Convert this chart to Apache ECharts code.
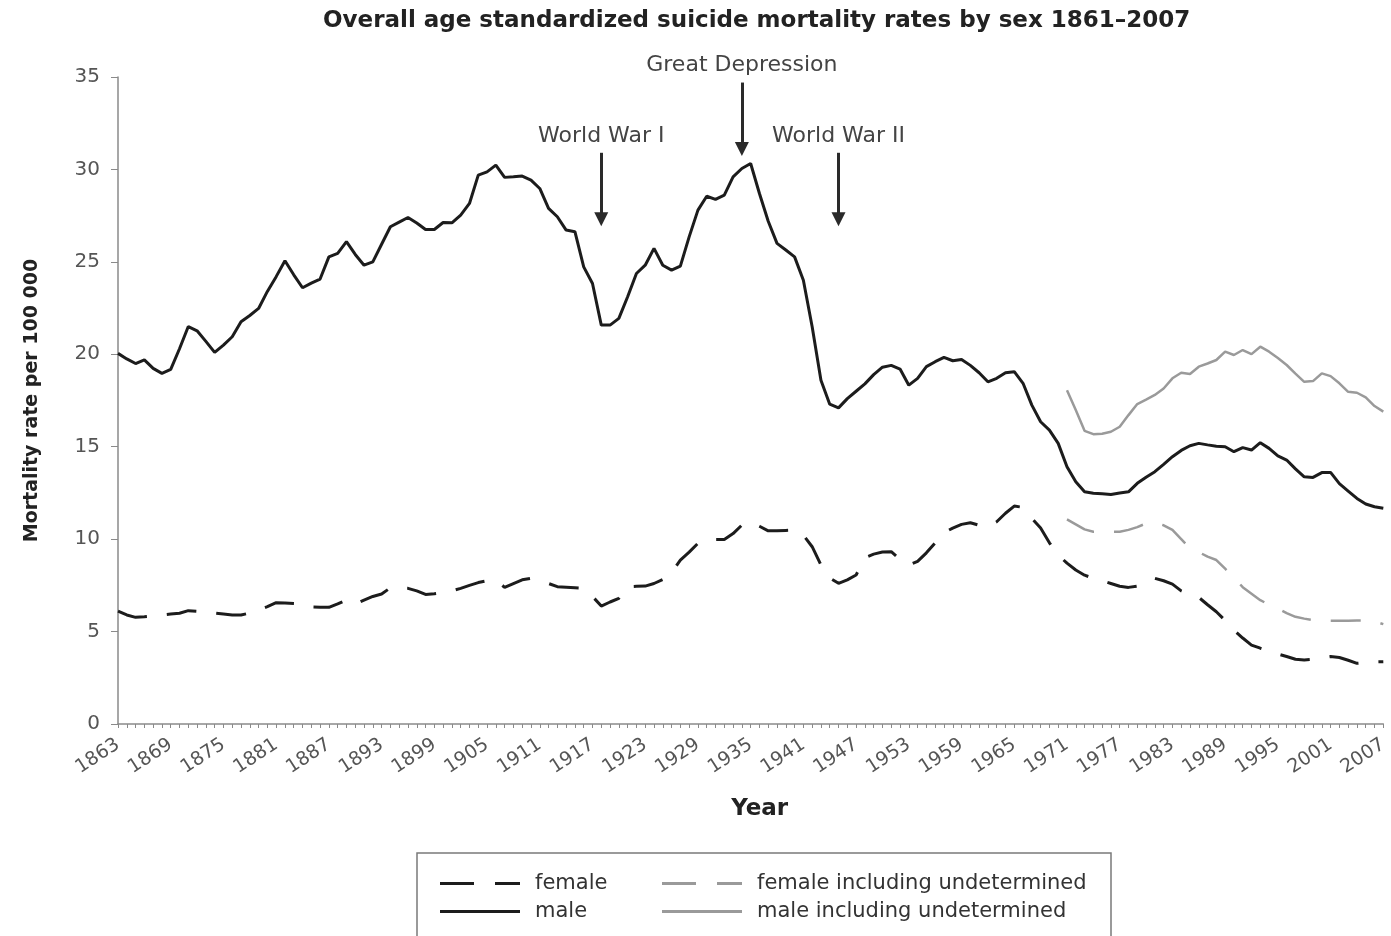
<!DOCTYPE html>
<html>
<head>
<meta charset="utf-8">
<title>Suicide mortality rates by sex 1861–2007</title>
<script src="https://cdn.jsdelivr.net/npm/echarts@6/dist/echarts.min.js"></script>
<style>
  html, body { margin: 0; padding: 0; background: #ffffff; }
  #chart { width: 1391px; height: 936px; }
</style>
</head>
<body>
<div id="chart"></div>
<script>
// Years on the category axis (one category per year)
const firstYear = 1863;
const lastYear = 2007;
const years = [];
for (let y = firstYear; y <= lastYear; y++) years.push(String(y));

// Age standardized suicide mortality per 100 000, 1863–2007
const male = [
  20.05, 19.75, 19.5, 19.7, 19.24, 18.97, 19.18, 20.3, 21.5, 21.27,
  20.7, 20.1, 20.5, 20.95, 21.76, 22.1, 22.48, 23.4, 24.2, 25.06,
  24.3, 23.6, 23.85, 24.07, 25.27, 25.46, 26.09, 25.4, 24.82, 25.0,
  25.95, 26.9, 27.15, 27.4, 27.1, 26.75, 26.75, 27.13, 27.11, 27.53,
  28.16, 29.69, 29.87, 30.23, 29.57, 29.6, 29.64, 29.42, 28.97, 27.89,
  27.44, 26.72, 26.63, 24.73, 23.83, 21.58, 21.58, 21.94, 23.11, 24.37,
  24.82, 25.73, 24.82, 24.55, 24.77, 26.35, 27.8, 28.55, 28.38, 28.61,
  29.6, 30.05, 30.32, 28.7, 27.2, 26.0, 25.64, 25.27, 24.0, 21.49,
  18.6, 17.3, 17.1, 17.6, 18.0, 18.4, 18.9, 19.3, 19.4, 19.2,
  18.33, 18.7, 19.33, 19.6, 19.83, 19.65, 19.72, 19.4, 19.0, 18.51,
  18.7, 19.0, 19.06, 18.43, 17.25, 16.35, 15.9, 15.18, 13.92, 13.1,
  12.56, 12.48, 12.45, 12.42, 12.5, 12.56, 13.02, 13.35, 13.65, 14.05,
  14.46, 14.8, 15.05, 15.18, 15.1, 15.03, 15.0, 14.73, 14.95, 14.82,
  15.22, 14.91, 14.5, 14.28, 13.8, 13.37, 13.34, 13.6, 13.61, 13.0,
  12.6, 12.2, 11.9, 11.75, 11.67
];

const female = [
  6.1, 5.9, 5.77, 5.8, 5.84, 5.9, 5.95, 5.99, 6.13, 6.1,
  6.07, 6.0, 5.95, 5.9, 5.9, 6.0, 6.17, 6.35, 6.56, 6.55,
  6.52, 6.49, 6.34, 6.32, 6.31, 6.5, 6.71, 6.49, 6.7, 6.9,
  7.03, 7.37, 7.37, 7.34, 7.2, 7.01, 7.05, 7.12, 7.2, 7.34,
  7.5, 7.65, 7.75, 7.79, 7.39, 7.6, 7.8, 7.88, 7.75, 7.6,
  7.43, 7.4, 7.37, 7.34, 6.9, 6.38, 6.6, 6.8, 7.43, 7.45,
  7.46, 7.6, 7.82, 8.2, 8.87, 9.3, 9.77, 9.98, 9.98, 9.98,
  10.3, 10.76, 10.94, 10.7, 10.45, 10.45, 10.47, 10.49, 10.22, 9.59,
  8.6, 7.9, 7.61, 7.8, 8.06, 9.0, 9.19, 9.3, 9.32, 8.9,
  8.6, 8.8, 9.26, 9.8, 10.35, 10.6, 10.8, 10.89, 10.75, 10.67,
  10.94, 11.4, 11.79, 11.72, 11.12, 10.6, 9.8, 9.14, 8.7, 8.33,
  8.05, 7.88, 7.75, 7.6, 7.45, 7.39, 7.46, 7.7, 7.88, 7.75,
  7.57, 7.2, 7.0, 6.85, 6.45, 6.07, 5.6, 5.08, 4.65, 4.27,
  4.1, 3.95, 3.79, 3.65, 3.5, 3.46, 3.5, 3.58, 3.65, 3.6,
  3.45, 3.28, 3.32, 3.36, 3.37
];

// Series including undetermined deaths, available from 1971
const undeterminedFrom = 1971;
const maleUndetermined = [
  18.06, 16.98, 15.86, 15.68, 15.7, 15.81, 16.08, 16.71, 17.31, 17.55,
  17.8, 18.15, 18.7, 19.0, 18.93, 19.33, 19.5, 19.69, 20.14, 19.96,
  20.23, 20.01, 20.41, 20.14, 19.8, 19.42, 18.95, 18.51, 18.55, 18.97,
  18.82, 18.43, 17.97, 17.92, 17.67, 17.2, 16.9
];
const femaleUndetermined = [
  11.07, 10.8, 10.53, 10.4, 10.4, 10.4, 10.4, 10.5, 10.65, 10.85,
  10.9, 10.75, 10.5, 10.0, 9.5, 9.3, 9.05, 8.87, 8.4, 7.93,
  7.4, 7.05, 6.7, 6.45, 6.25, 6.0, 5.8, 5.7, 5.62, 5.59,
  5.58, 5.58, 5.59, 5.6, 5.6, 5.55, 5.4
];

// Y axis ticks
const yMin = 0, yMax = 35, yStep = 5;

// Historical events marked with arrows: label, year, arrow top and arrow end (rate)
const eventLabels = ['World War I', 'Great Depression', 'World War II'];
const eventYears = ['1918', '1934', '1945'];
const eventArrowTop = [30.9, 34.7, 30.9];
const eventArrowEnd = [27.3, 31.1, 27.3];

function padFrom(startYear, values) {
  const lead = years.indexOf(String(startYear));
  const out = new Array(lead).fill(null);
  return out.concat(values);
}

const FONT = 'DejaVu Sans';
const BLACK = '#1c1c1c';
const GREY = '#9a9a9a';

// Legend keys: a dashed or a solid stroke
const ICON_DASHED = 'path://M0,0H34V3H0Z M55,0H80V3H55Z';
const ICON_SOLID = 'path://M0,0H80V3H0Z';

const eventLines = eventLabels.map((name, i) => [
  { coord: [eventYears[i], eventArrowTop[i]], label: { formatter: name } },
  { coord: [eventYears[i], eventArrowEnd[i]] }
]);

const legendText = { fontFamily: FONT, fontSize: 21, color: '#333333' };

const chart = echarts.init(document.getElementById('chart'), null, { renderer: 'canvas' });

const option = {
  animation: false,
  backgroundColor: '#ffffff',
  title: {
    text: 'Overall age standardized suicide mortality rates by sex 1861–2007',
    left: 318,
    top: 5,
    textStyle: { fontFamily: FONT, fontWeight: 'bold', fontSize: 23, color: '#222222' }
  },
  grid: { left: 118, right: 2, top: 77, bottom: 212, containLabel: false },
  xAxis: {
    type: 'category',
    data: years,
    boundaryGap: false,
    name: 'Year',
    nameLocation: 'middle',
    nameGap: 74,
    nameTextStyle: {
      fontFamily: FONT, fontWeight: 'bold', fontSize: 23, color: '#222222',
      padding: [0, 0, 0, 18]
    },
    axisLine: { lineStyle: { color: '#8a8a8a', width: 1.5 } },
    axisTick: { show: true, interval: 0, length: 4, lineStyle: { color: '#8a8a8a', width: 1 } },
    axisLabel: {
      interval: 5,
      rotate: 33,
      margin: 19,
      fontFamily: FONT,
      fontSize: 19,
      color: '#555555'
    },
    splitLine: { show: false }
  },
  yAxis: {
    type: 'value',
    min: yMin,
    max: yMax,
    interval: yStep,
    name: 'Mortality rate per 100 000',
    nameLocation: 'middle',
    nameGap: 76,
    nameTextStyle: { fontFamily: FONT, fontWeight: 'bold', fontSize: 19, color: '#222222' },
    axisLine: { show: true, lineStyle: { color: '#8a8a8a', width: 1.5 } },
    axisTick: { show: true, length: 7, lineStyle: { color: '#8a8a8a', width: 1 } },
    axisLabel: { margin: 18, fontFamily: FONT, fontSize: 20, color: '#555555' },
    splitLine: { show: false }
  },
  legend: [
    {
      data: [
        { name: 'female', icon: ICON_DASHED },
        { name: 'male', icon: ICON_SOLID }
      ],
      orient: 'vertical',
      left: 435,
      top: 868,
      itemWidth: 80,
      itemHeight: 3,
      itemGap: 7,
      selectedMode: false,
      textStyle: Object.assign({ padding: [0, 0, 0, 10] }, legendText)
    },
    {
      data: [
        { name: 'female including undetermined', icon: ICON_DASHED },
        { name: 'male including undetermined', icon: ICON_SOLID }
      ],
      orient: 'vertical',
      left: 657,
      top: 868,
      itemWidth: 80,
      itemHeight: 3,
      itemGap: 7,
      selectedMode: false,
      textStyle: Object.assign({ padding: [0, 0, 0, 10] }, legendText)
    }
  ],
  graphic: [
    {
      type: 'rect',
      silent: true,
      shape: { x: 417, y: 853, width: 694, height: 100 },
      style: { fill: 'none', stroke: '#7a7a7a', lineWidth: 1.5 }
    }
  ],
  series: [
    {
      name: 'female',
      type: 'line',
      data: female,
      symbol: 'none',
      lineStyle: { color: BLACK, width: 3, type: [30, 20] },
      itemStyle: { color: BLACK },
      emphasis: { disabled: true },
      z: 3
    },
    {
      name: 'male',
      type: 'line',
      data: male,
      symbol: 'none',
      lineStyle: { color: BLACK, width: 3 },
      itemStyle: { color: BLACK },
      emphasis: { disabled: true },
      z: 3,
      markLine: {
        silent: true,
        symbol: ['none', 'triangle'],
        symbolSize: 14,
        lineStyle: { color: '#2a2a2a', width: 3, type: 'solid' },
        label: {
          show: true,
          position: 'start',
          distance: 6,
          fontFamily: FONT,
          fontSize: 22,
          color: '#444444'
        },
        emphasis: { disabled: true },
        data: eventLines
      }
    },
    {
      name: 'female including undetermined',
      type: 'line',
      data: padFrom(undeterminedFrom, femaleUndetermined),
      symbol: 'none',
      connectNulls: false,
      lineStyle: { color: GREY, width: 2.5, type: [30, 20] },
      itemStyle: { color: GREY },
      emphasis: { disabled: true },
      z: 2
    },
    {
      name: 'male including undetermined',
      type: 'line',
      data: padFrom(undeterminedFrom, maleUndetermined),
      symbol: 'none',
      connectNulls: false,
      lineStyle: { color: GREY, width: 2.5 },
      itemStyle: { color: GREY },
      emphasis: { disabled: true },
      z: 2
    }
  ]
};

chart.setOption(option);
</script>
</body>
</html>
